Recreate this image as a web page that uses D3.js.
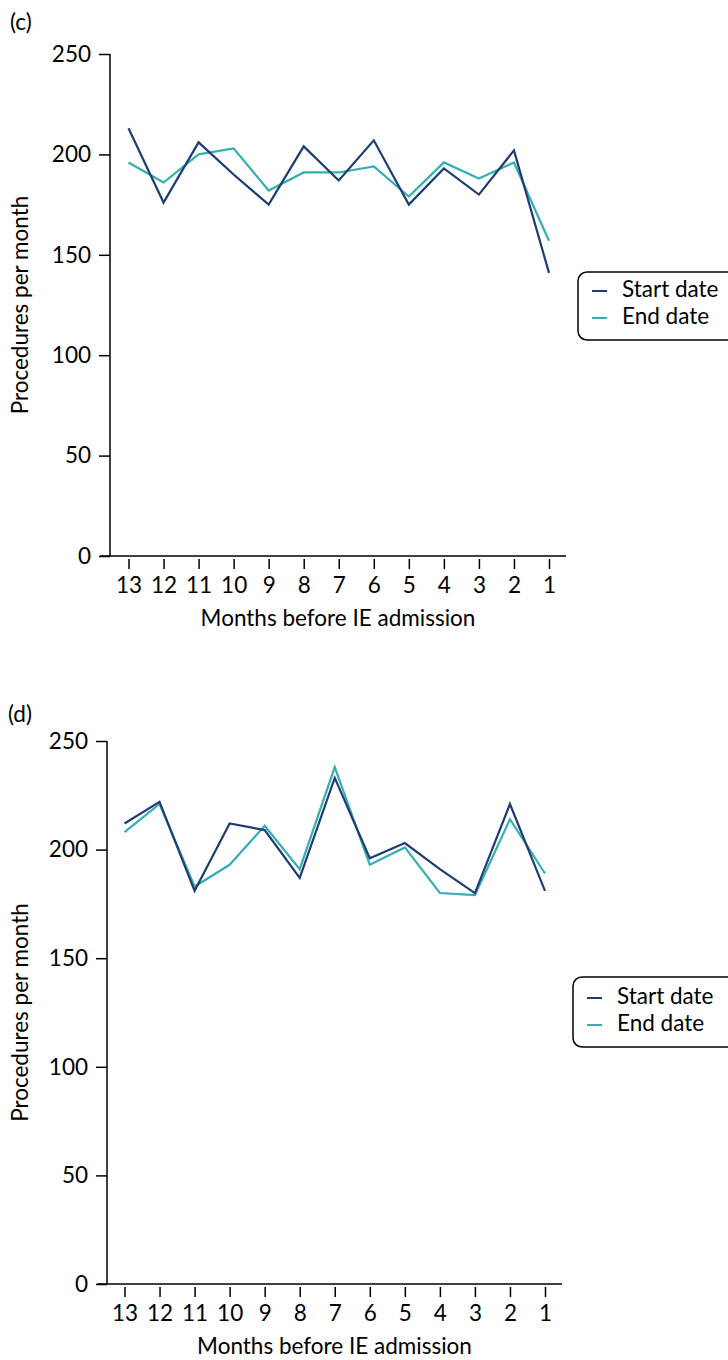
<!DOCTYPE html>
<html><head><meta charset="utf-8">
<script src="https://cdn.jsdelivr.net/npm/d3@7"></script>
<style>body{margin:0;background:#fff}svg{display:block;font-family:Lato,"Open Sans",sans-serif}</style>
</head><body><svg id="c" width="728" height="1360"></svg>
<script>
const months = ["13","12","11","10","9","8","7","6","5","4","3","2","1"];
const yTicks = [0,50,100,150,200,250];
const seriesNames = ["Start date","End date"];
const colors = ["#1f3d70","#35b0b2"];
const cStart = [213,176,206,190,175,204,187,207,175,193,180,202,141];
const cEnd   = [196,186,200,203,182,191,191,194,179,196,188,196,157];
const dStart = [212,222,181,212,209,187,233,196,203,191,180,221,181];
const dEnd   = [208,221,183,193,211,191,238,193,201,180,179,214,189];

const FS = 22.5;
const svg = d3.select("#c");
const panels = [
  {label:"(c)", data:[cStart,cEnd], ax:110, top:54, bottom:556, x0:128.5, x1:549, xEnd:566, lx:10, ly:24, leg:{x:578,y:272,w:160,h:68,r0:19}},
  {label:"(d)", data:[dStart,dEnd], ax:107, top:741, bottom:1284, x0:124.5, x1:545, xEnd:562, lx:8, ly:716, leg:{x:573,y:977,w:165,h:70,r0:21}}
];
panels.forEach(p=>{
  const g = svg.append("g");
  const x = d3.scalePoint().domain(months).range([p.x0,p.x1]);
  const y = d3.scaleLinear().domain([0,250]).range([p.bottom,p.top]);
  g.append("text").attr("x",p.lx).attr("y",p.ly).attr("font-size",FS).attr("dominant-baseline","middle").text(p.label);
  const ya = g.append("g").attr("transform",`translate(${p.ax},0)`)
    .call(d3.axisLeft(y).tickValues(yTicks).tickSize(11).tickPadding(8).tickFormat(d3.format("d")));
  ya.select(".domain").attr("d",`M0,${p.top}V${p.bottom}`).attr("stroke","#000").attr("stroke-width",1.5);
  ya.selectAll(".tick line").attr("stroke","#000").attr("stroke-width",1.5);
  ya.selectAll("text").attr("font-size",FS).attr("fill","#000").attr("font-family","Lato");
  const xa = g.append("g").attr("transform",`translate(0,${p.bottom})`)
    .call(d3.axisBottom(x).tickSize(10).tickPadding(8));
  xa.select(".domain").attr("d",`M${p.ax-10},0H${p.xEnd}`).attr("stroke","#000").attr("stroke-width",1.5);
  xa.selectAll(".tick line").attr("stroke","#000").attr("stroke-width",1.5).attr("y1",3).attr("y2",13);
  xa.selectAll("text").attr("font-size",FS).attr("fill","#000").attr("font-family","Lato").attr("dy","0.75em").attr("y",20);
  g.append("text").attr("x",(p.ax+p.xEnd)/2).attr("y",p.bottom+64).attr("text-anchor","middle").attr("dominant-baseline","middle").attr("font-size",FS).text("Months before IE admission");
  g.append("text").attr("transform",`translate(22,${(p.top+p.bottom)/2}) rotate(-90)`).attr("text-anchor","middle").attr("dominant-baseline","middle").attr("font-size",FS).text("Procedures per month");
  const line = d3.line().x((d,i)=>x(months[i])).y(d=>y(d));
  [1,0].forEach(s=>{
    g.append("path").datum(p.data[s]).attr("d",line).attr("fill","none").attr("stroke",colors[s]).attr("stroke-width",2.2).attr("stroke-linejoin","miter");
  });
  const L = p.leg;
  const lg = g.append("g").attr("transform",`translate(${L.x},${L.y})`);
  lg.append("rect").attr("width",L.w).attr("height",L.h).attr("rx",9).attr("fill","#fff").attr("stroke","#000").attr("stroke-width",1.5);
  seriesNames.forEach((n,i)=>{
    const yy = L.r0 + i*27;
    lg.append("line").attr("x1",14).attr("x2",29).attr("y1",yy).attr("y2",yy).attr("stroke",colors[i]).attr("stroke-width",2);
    lg.append("text").attr("x",44).attr("y",yy).attr("dominant-baseline","middle").attr("font-size",FS).text(n);
  });
});
</script></body></html>
